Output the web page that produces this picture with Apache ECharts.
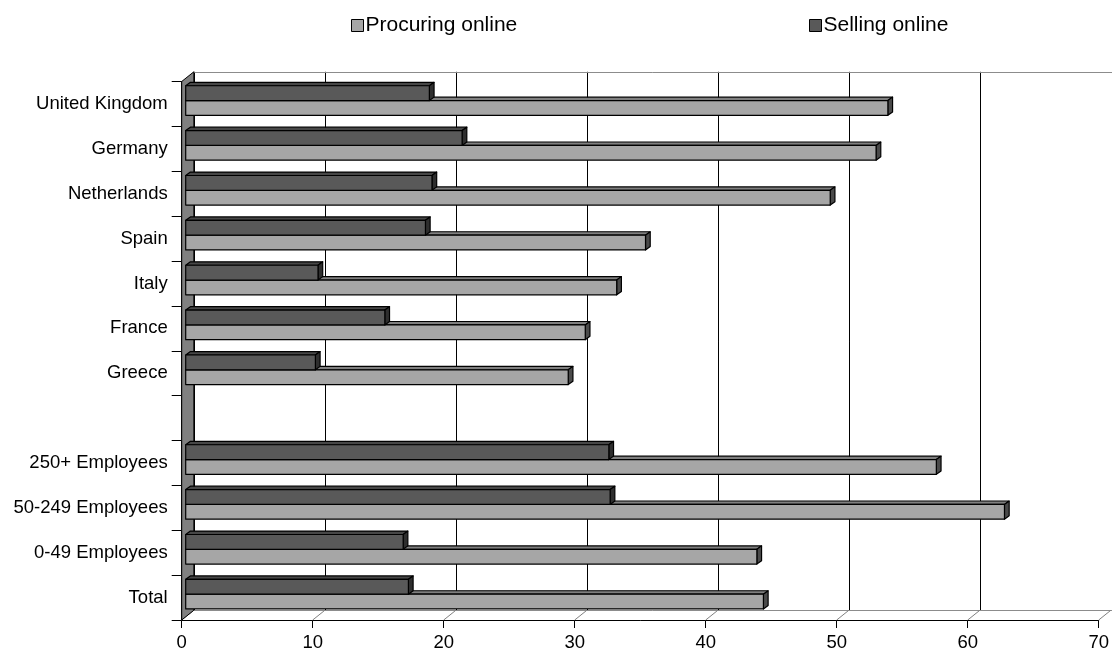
<!DOCTYPE html>
<html><head><meta charset="utf-8">
<script src="https://cdn.jsdelivr.net/npm/echarts@6/dist/echarts.min.js"></script>
<style>html,body{margin:0;padding:0;background:#fff}#c{width:1112px;height:653px}</style>
</head><body><div id="c"></div>
<script>
// ---- data ----
const categories = ['Total','0-49 Employees','50-249 Employees','250+ Employees','','Greece','France','Italy','Spain','Netherlands','Germany','United Kingdom'];
const procuring  = [44.1, 43.6, 62.5, 57.3, null, 29.2, 30.5, 32.9, 35.1, 49.2, 52.7, 53.6];
const selling    = [17.0, 16.6, 32.4, 32.3, null,  9.9, 15.2, 10.1, 18.3, 18.8, 21.1, 18.6];
const xTicks     = [0, 10, 20, 30, 40, 50, 60, 70];
const seriesNames = ['Procuring online', 'Selling online'];

// ---- styling constants ----
const FONT = 'Liberation Sans, Arial, sans-serif';
const DEPTH_X = 12.1, DEPTH_Y = -9.7;     // back wall offset
const SHIFT_X = 4.0;                      // bar front-face offset from front plane
const SPLIT = -3.4;                       // split line offset from band centre
const BAR_DX = 4.7, BAR_DY = -3.4;        // bar depth
const COLORS = {
  light: {front:'#a6a6a6', top:'#7f7f7f', side:'#4a4a4a'},
  dark:  {front:'#595959', top:'#474747', side:'#2e2e2e'}
};
const FRONT = {left:181.7, top:81.5, right:12.3, bottom:33};
const BACK = {left:FRONT.left+DEPTH_X, top:FRONT.top+DEPTH_Y, right:FRONT.right-DEPTH_X, bottom:FRONT.bottom-DEPTH_Y};

function toData(arr){
  const out = [];
  arr.forEach((v,i)=>{ if(v!=null) out.push([i, v]); });
  return out;
}

function barRenderer(upper, col){
  return function(params, api){
    const ci = api.value(0), v = api.value(1);
    const p0 = api.coord([0, ci]);
    const p1 = api.coord([v, ci]);
    const band = api.size([0, 1])[1];
    const h = band * 0.33;
    const split = p0[1] + SPLIT;
    const yTop = upper ? split - h : split;
    const yBot = upper ? split : split + h;
    const x0 = p0[0] + SHIFT_X, x1 = p1[0] + SHIFT_X;
    const st = {stroke:'#000', lineWidth:1.2, lineJoin:'round'};
    return {type:'group', children:[
      {type:'polygon', shape:{points:[[x0,yTop],[x0+BAR_DX,yTop+BAR_DY],[x1+BAR_DX,yTop+BAR_DY],[x1,yTop]]},
       style:Object.assign({fill:col.top}, st)},
      {type:'polygon', shape:{points:[[x1,yTop],[x1+BAR_DX,yTop+BAR_DY],[x1+BAR_DX,yBot+BAR_DY],[x1,yBot]]},
       style:Object.assign({fill:col.side}, st)},
      {type:'rect', shape:{x:x0, y:yTop, width:x1-x0, height:yBot-yTop},
       style:Object.assign({fill:col.front}, st)}
    ]};
  };
}

function frameRenderer(params, api){
  const v = api.value(0);
  const band = api.size([0, 1])[1];
  const base = api.coord([v, 0]);
  const floorY = base[1] + band/2;
  const x = base[0];
  const children = [
    {type:'line', shape:{x1:x, y1:floorY, x2:x+DEPTH_X, y2:floorY+DEPTH_Y},
     style:{stroke:'#808080', lineWidth:1}}
  ];
  if (v === xTicks[0]) {
    const top = api.coord([v, categories.length-1])[1] - band/2;
    children.push({type:'polygon', shape:{points:[[x,top],[x+DEPTH_X,top+DEPTH_Y],[x+DEPTH_X,floorY+DEPTH_Y],[x,floorY]]},
      style:{fill:'#808080', stroke:'#000', lineWidth:1}});
  }
  return {type:'group', children};
}

const chart = echarts.init(document.getElementById('c'), null, {renderer:'canvas'});
const legendCommon = {
  icon:'rect', itemWidth:12, itemHeight:12, top:10, selectedMode:false,
  textStyle:{fontFamily:FONT, fontSize:21, color:'#000', padding:[0,0,0,-3]},
  itemStyle:{borderColor:'#000', borderWidth:1}
};
chart.setOption({
  animation:false,
  backgroundColor:'#fff',
  textStyle:{fontFamily:FONT},
  legend:[
    Object.assign({data:[seriesNames[0]], left:346}, legendCommon),
    Object.assign({data:[seriesNames[1]], left:804}, legendCommon)
  ],
  grid:[
    Object.assign({containLabel:false}, FRONT),
    Object.assign({containLabel:false}, BACK)
  ],
  xAxis:[
    {type:'value', gridIndex:0, min:0, max:70, interval:10,
     axisLine:{show:true, lineStyle:{color:'#000', width:1}},
     axisTick:{show:true, length:8, lineStyle:{color:'#000'}},
     axisLabel:{fontFamily:FONT, fontSize:18.5, color:'#000', margin:13},
     splitLine:{show:false}},
    {type:'value', gridIndex:1, min:0, max:70, interval:10, position:'bottom',
     axisLine:{show:true, lineStyle:{color:'#8c8c8c', width:1}}, axisTick:{show:false}, axisLabel:{show:false},
     splitLine:{show:true, showMaxLine:false, lineStyle:{color:'#000', width:1}}},
    {type:'value', gridIndex:1, min:0, max:70, interval:10, position:'top',
     axisLine:{show:true, lineStyle:{color:'#8c8c8c', width:1}}, axisTick:{show:false}, axisLabel:{show:false},
     splitLine:{show:false}}
  ],
  yAxis:[
    {type:'category', gridIndex:0, data:categories,
     axisLine:{show:true, lineStyle:{color:'#000', width:1}},
     axisTick:{show:true, length:10, alignWithLabel:false, lineStyle:{color:'#000'}},
     axisLabel:{fontFamily:FONT, fontSize:18.5, color:'#000', margin:14},
     splitLine:{show:false}},
    {type:'category', gridIndex:1, data:categories, show:false}
  ],
  series:[
    {type:'custom', name:'frame', xAxisIndex:0, yAxisIndex:0, z:1, silent:true,
     data:xTicks.map(v=>[v]), encode:{x:0}, renderItem:frameRenderer},
    {type:'custom', name:seriesNames[0], xAxisIndex:0, yAxisIndex:0, z:3,
     itemStyle:{color:COLORS.light.front, borderColor:'#000', borderWidth:1},
     data:toData(procuring), encode:{x:1, y:0}, renderItem:barRenderer(false, COLORS.light)},
    {type:'custom', name:seriesNames[1], xAxisIndex:0, yAxisIndex:0, z:4,
     itemStyle:{color:COLORS.dark.front, borderColor:'#000', borderWidth:1},
     data:toData(selling), encode:{x:1, y:0}, renderItem:barRenderer(true, COLORS.dark)}
  ]
});
</script></body></html>
